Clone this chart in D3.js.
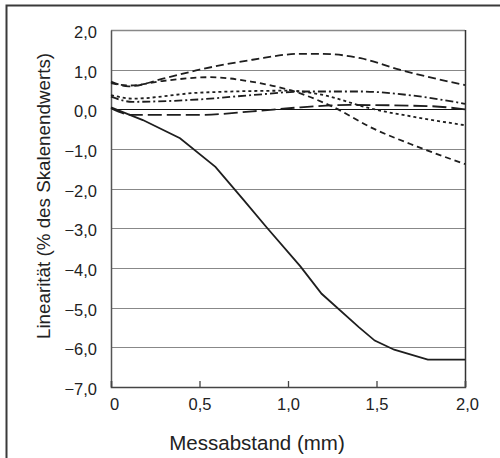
<!DOCTYPE html>
<html>
<head>
<meta charset="utf-8">
<script src="https://cdn.jsdelivr.net/npm/d3@7/dist/d3.min.js"></script>
<style>
  body { margin: 0; background: #fff; }
  svg { display: block; font-family: "Liberation Sans", Arial, sans-serif; }
</style>
</head>
<body>
<svg id="chart"></svg>
<script>
// Tick values
const x_ticks = [0, 0.5, 1.0, 1.5, 2.0];
const y_ticks = [2, 1, 0, -1, -2, -3, -4, -5, -6, -7];

// Curves (x in mm, y in % of full scale)
const arc_x = [0, 0.1, 0.3, 0.5, 0.8, 1.07, 1.18, 1.41, 1.63, 2.0];
const arc_y = [0.7, 0.58, 0.78, 1.0, 1.25, 1.4, 1.4, 1.29, 1.0, 0.61];

const hump_x = [0, 0.1, 0.3, 0.56, 0.79, 1.07, 1.25, 1.48, 1.73, 2.0];
const hump_y = [0.66, 0.6, 0.72, 0.81, 0.7, 0.4, 0.07, -0.48, -0.94, -1.38];

const dotted_x = [0, 0.12, 0.5, 1.0, 1.2, 1.45, 1.75, 2.0];
const dotted_y = [0.36, 0.27, 0.42, 0.47, 0.36, 0.04, -0.22, -0.40];

const dashdot_x = [0, 0.12, 0.5, 0.8, 1.1, 1.4, 1.7, 2.0];
const dashdot_y = [0.32, 0.19, 0.25, 0.36, 0.45, 0.45, 0.35, 0.14];

const flat_x = [0, 0.12, 0.5, 0.8, 1.07, 1.35, 1.8, 2.0];
const flat_y = [0.03, -0.14, -0.14, -0.05, 0.05, 0.11, 0.08, 0.0];

const solid_x = [0, 0.18, 0.39, 0.59, 0.75, 0.88, 1.07, 1.19, 1.40, 1.49, 1.60, 1.79, 2.0];
const solid_y = [0.05, -0.27, -0.73, -1.45, -2.29, -2.98, -3.96, -4.65, -5.49, -5.83, -6.06, -6.31, -6.31];

// Chart dimensions
const width = 500, height = 458;
const margins = { top: 30, right: 35, bottom: 71, left: 111 };
const chart_width = width - margins.left - margins.right;
const chart_height = height - margins.top - margins.bottom;

const x_scale = d3.scaleLinear().domain([0, 2]).range([0, chart_width]);
const y_scale = d3.scaleLinear().domain([-7, 2]).range([chart_height, 0]);

const fmt = d => d3.format(".1f")(d).replace(".", ",").replace("-", "\u2212");

const svg = d3.select("#chart").attr("width", width).attr("height", height);

// Outer frame (only top and left edges visible)
svg.append("path")
    .attr("d", `M6.5,${height} V5.5 H${width}`)
    .attr("fill", "none")
    .attr("stroke", "#3a3a3a")
    .attr("stroke-width", 2);

const g = svg.append("g").attr("transform", `translate(${margins.left},${margins.top})`);

// Horizontal grid lines
g.selectAll(".grid")
    .data(y_ticks.filter(d => d !== -7))
    .enter()
    .append("line")
    .attr("x1", 0)
    .attr("x2", chart_width)
    .attr("y1", d => Math.round(y_scale(d)) + 0.5)
    .attr("y2", d => Math.round(y_scale(d)) + 0.5)
    .attr("stroke", d => d === 0 ? "#111" : "#888")
    .attr("stroke-width", d => d === 2 ? 1.3 : 1.2);

// Right border
g.append("line")
    .attr("x1", chart_width + 0.5).attr("x2", chart_width + 0.5)
    .attr("y1", 0).attr("y2", chart_height)
    .attr("stroke", "#333").attr("stroke-width", 1.5);

// Y axis
const y_axis = g.append("g")
    .call(d3.axisLeft(y_scale).tickValues(y_ticks).tickSize(0).tickPadding(14).tickFormat(fmt));
y_axis.select(".domain").attr("stroke", "#555").attr("stroke-width", 1.5);
y_axis.selectAll("text")
    .attr("font-size", 16.5)
    .attr("fill", "#222")
    .attr("dy", "0.45em");

// X axis (ticks point inwards)
const x_axis = g.append("g")
    .attr("transform", `translate(0,${chart_height})`)
    .call(d3.axisBottom(x_scale).tickValues(x_ticks).tickSize(-6).tickPadding(9)
        .tickFormat(d => d === 0 ? "0" : fmt(d)));
x_axis.select(".domain").attr("stroke", "#444").attr("stroke-width", 1.5);
x_axis.selectAll(".tick line").attr("stroke", "#444").attr("stroke-width", 1.3);
x_axis.selectAll("text")
    .attr("font-size", 16.5)
    .attr("fill", "#222")
    .attr("dy", "0.85em")
    .attr("dx", d => d === 0 ? 3 : (d === 2 ? 2 : 0));

// Axis titles
svg.append("text")
    .attr("x", 257)
    .attr("y", 450)
    .attr("text-anchor", "middle")
    .attr("font-size", 20.5)
    .attr("fill", "#222")
    .text("Messabstand (mm)");

svg.append("text")
    .attr("transform", `translate(50,196) rotate(-90)`)
    .attr("text-anchor", "middle")
    .attr("font-size", 18.8)
    .attr("fill", "#222")
    .text("Linearität (% des Skalenendwerts)");

// Curves
const series = [
    { xs: arc_x, ys: arc_y, dash: "8,4", curve: d3.curveMonotoneX },
    { xs: hump_x, ys: hump_y, dash: "6,4", curve: d3.curveMonotoneX },
    { xs: dotted_x, ys: dotted_y, dash: "3,3", curve: d3.curveMonotoneX },
    { xs: dashdot_x, ys: dashdot_y, dash: "8,3,2,3", curve: d3.curveMonotoneX },
    { xs: flat_x, ys: flat_y, dash: "14,5", curve: d3.curveMonotoneX },
    { xs: solid_x, ys: solid_y, dash: null, curve: d3.curveLinear }
];

series.forEach(s => {
    const pts = s.xs.map((x, i) => [x, s.ys[i]]);
    const line = d3.line()
        .x(d => x_scale(d[0]))
        .y(d => y_scale(d[1]))
        .curve(s.curve);
    g.append("path")
        .datum(pts)
        .attr("d", line)
        .attr("fill", "none")
        .attr("stroke", "#1e1e1e")
        .attr("stroke-width", 1.8)
        .attr("stroke-dasharray", s.dash);
});
</script>
</body>
</html>
